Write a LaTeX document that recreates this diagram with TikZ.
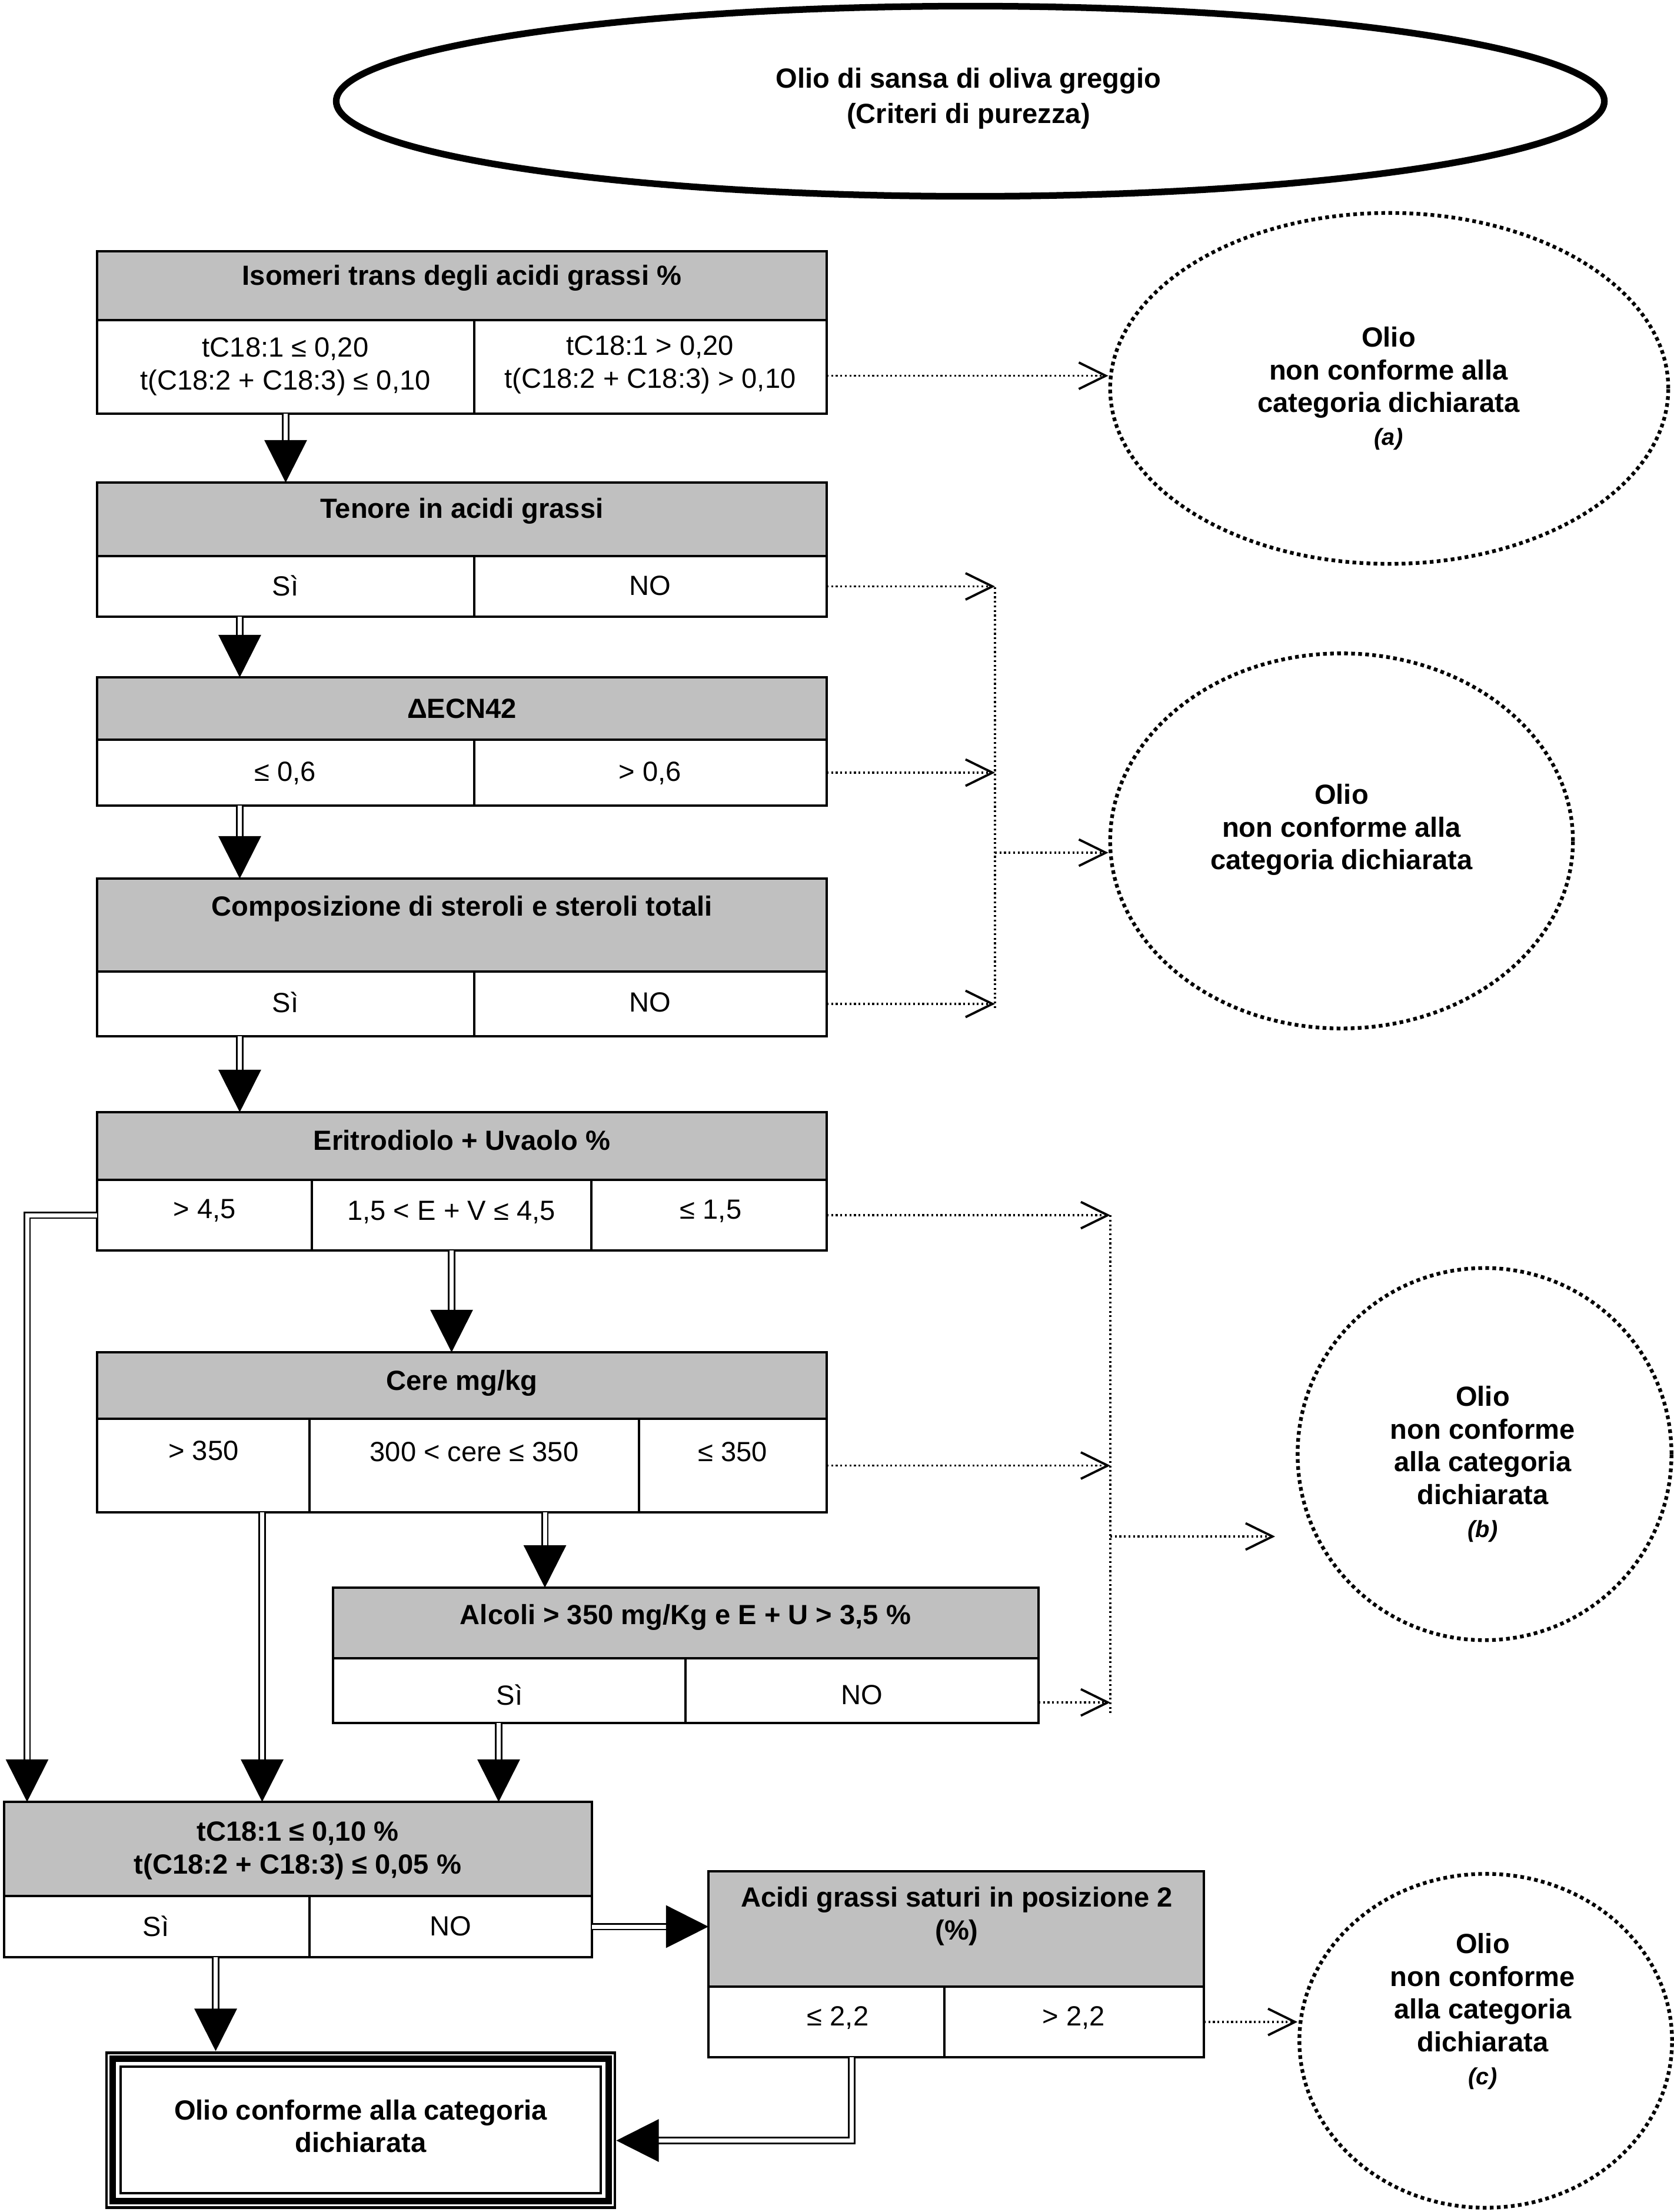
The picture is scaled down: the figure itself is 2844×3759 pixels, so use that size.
\documentclass[tikz,border=0pt]{standalone}
\usepackage{fontspec}
\setmainfont{Liberation Sans}
\usepackage{tikz}
\usetikzlibrary{arrows.meta, shapes.geometric, positioning, fit}

\definecolor{HeadGray}{RGB}{192,192,192}

\begin{document}
\begin{tikzpicture}[x=0.01cm, y=-0.01cm,
    every node/.style={font=\fontsize{13.4}{15.8}\selectfont},
    head/.style={draw, line width=1pt, fill=HeadGray, inner sep=0pt, outer sep=0pt},
    cell/.style={draw, line width=1pt, fill=white, inner sep=0pt, outer sep=0pt},
    htext/.style={font=\fontsize{13.4}{15.8}\selectfont\bfseries, align=center},
    ctext/.style={align=center},
    rejbox/.style={ellipse, draw, line width=1.8pt, dash pattern=on 1.8pt off 1.6pt, inner sep=0pt},
    dbl/.style={double, double distance=2pt, line width=0.75pt, -{Triangle[length=20.5pt, width=20.5pt]}},
    dotline/.style={line width=0.9pt, dash pattern=on 0.9pt off 1.3pt},
    dotarrow/.style={dotline, -{Straight Barb[length=13pt, width=12.8pt, line width=1.1pt]}}
  ]
  \useasboundingbox (0,0) rectangle (2844,3759);

  % title
  \node[ellipse, draw, line width=3.2pt, minimum width=21.54cm, minimum height=3.23cm, inner sep=0pt] (start) at (1649,172) {};
  \node[htext, font=\fontsize{13.4}{17}\selectfont\bfseries] (startT) at (1646,167) {Olio di sansa di oliva greggio\\(Criteri di purezza)};

  % trans isomers
  \node[head, fit={(165,427) (1405,544)}] (isoH) {};
  \node[cell, fit={(165,544) (806,703)}] (isoA) {};
  \node[cell, fit={(806,544) (1405,703)}] (isoB) {};
  \node[htext] (isoHT) at (785,472) {Isomeri trans degli acidi grassi \%};
  \node[ctext] (isoAT) at (485,623) {tC18:1 ≤ 0,20\\t(C18:2 + C18:3) ≤ 0,10};
  \node[ctext] (isoBT) at (1105,620) {tC18:1 > 0,20\\t(C18:2 + C18:3) > 0,10};

  % fatty acids
  \node[head, fit={(165,820) (1405,945)}] (tenH) {};
  \node[cell, fit={(165,945) (806,1048)}] (tenA) {};
  \node[cell, fit={(806,945) (1405,1048)}] (tenB) {};
  \node[htext] (tenHT) at (785,868) {Tenore in acidi grassi};
  \node[ctext] (tenAT) at (485,995) {Sì};
  \node[ctext] (tenBT) at (1105,995) {NO};

  % ECN42
  \node[head, fit={(165,1151) (1405,1257)}] (ecnH) {};
  \node[cell, fit={(165,1257) (806,1369)}] (ecnA) {};
  \node[cell, fit={(806,1257) (1405,1369)}] (ecnB) {};
  \node[htext] (ecnHT) at (785,1204) {ΔECN42};
  \node[ctext] (ecnAT) at (485,1314) {≤ 0,6};
  \node[ctext] (ecnBT) at (1105,1314) {> 0,6};

  % sterols
  \node[head, fit={(165,1493) (1405,1651)}] (compH) {};
  \node[cell, fit={(165,1651) (806,1761)}] (compA) {};
  \node[cell, fit={(806,1651) (1405,1761)}] (compB) {};
  \node[htext] (compHT) at (785,1544) {Composizione di steroli e steroli totali};
  \node[ctext] (compAT) at (485,1703) {Sì};
  \node[ctext] (compBT) at (1105,1703) {NO};

  % erythrodiol
  \node[head, fit={(165,1890) (1405,2005)}] (eritH) {};
  \node[cell, fit={(165,2005) (530,2125)}] (eritA) {};
  \node[cell, fit={(530,2005) (1005,2125)}] (eritB) {};
  \node[cell, fit={(1005,2005) (1405,2125)}] (eritC) {};
  \node[htext] (eritHT) at (785,1938) {Eritrodiolo + Uvaolo \%};
  \node[ctext] (eritAT) at (348,2057) {> 4,5};
  \node[ctext] (eritBT) at (767,2060) {1,5 < E + V ≤ 4,5};
  \node[ctext] (eritCT) at (1208,2058) {≤ 1,5};

  % waxes
  \node[head, fit={(165,2298) (1405,2411)}] (cereH) {};
  \node[cell, fit={(165,2411) (526,2570)}] (cereA) {};
  \node[cell, fit={(526,2411) (1086,2570)}] (cereB) {};
  \node[cell, fit={(1086,2411) (1405,2570)}] (cereC) {};
  \node[htext] (cereHT) at (785,2350) {Cere mg/kg};
  \node[ctext] (cereAT) at (346,2465) {> 350};
  \node[ctext] (cereBT) at (806,2467) {300 < cere ≤ 350};
  \node[ctext] (cereCT) at (1245,2467) {≤ 350};

  % alcohols
  \node[head, fit={(566,2698) (1765,2818)}] (alH) {};
  \node[cell, fit={(566,2818) (1165,2928)}] (alA) {};
  \node[cell, fit={(1165,2818) (1765,2928)}] (alB) {};
  \node[htext] (alHT) at (1165,2748) {Alcoli > 350 mg/Kg e E + U > 3,5 \%};
  \node[ctext] (alAT) at (866,2880) {Sì};
  \node[ctext] (alBT) at (1465,2880) {NO};

  % trans limits
  \node[head, fit={(7,3062) (1006,3222)}] (tcH) {};
  \node[cell, fit={(7,3222) (526,3326)}] (tcA) {};
  \node[cell, fit={(526,3222) (1006,3326)}] (tcB) {};
  \node[htext] (tcHT) at (506,3145) {tC18:1 ≤ 0,10 \%\\t(C18:2 + C18:3) ≤ 0,05 \%};
  \node[ctext] (tcAT) at (265,3273) {Sì};
  \node[ctext] (tcBT) at (766,3273) {NO};

  % saturated in position 2
  \node[head, fit={(1204,3180) (2046,3376)}] (acH) {};
  \node[cell, fit={(1204,3376) (1605,3496)}] (acA) {};
  \node[cell, fit={(1605,3376) (2046,3496)}] (acB) {};
  \node[htext] (acHT) at (1626,3256) {Acidi grassi saturi in posizione 2\\(\%)};
  \node[ctext] (acAT) at (1424,3429) {≤ 2,2};
  \node[ctext] (acBT) at (1825,3429) {> 2,2};

  % result
  \node[draw, line width=1.4pt, fill=white, inner sep=0pt, fit={(181,3488) (1045,3751)}] (fin) {};
  \draw[line width=3pt] ([shift={(0.13cm,-0.13cm)}]fin.north west) rectangle ([shift={(-0.13cm,0.13cm)}]fin.south east);
  \draw[line width=1.3pt] ([shift={(0.265cm,-0.265cm)}]fin.north west) rectangle ([shift={(-0.265cm,0.265cm)}]fin.south east);
  \node[htext] (finT) at (613,3613) {Olio conforme alla categoria\\dichiarata};

  % rejected
  \node[rejbox, minimum width=9.48cm, minimum height=5.96cm] (ella) at (2361,660) {};
  \node[htext] (ellaT) at (2360,660) {Olio\\non conforme alla\\categoria dichiarata\\{\fontsize{11.3}{13}\selectfont\itshape (a)}};
  \node[rejbox, minimum width=7.86cm, minimum height=6.37cm] (ell2) at (2280,1429) {};
  \node[htext] (ell2T) at (2280,1410) {Olio\\non conforme alla\\categoria dichiarata};
  \node[rejbox, minimum width=6.35cm, minimum height=6.32cm] (ellb) at (2523,2471) {};
  \node[htext] (ellbT) at (2520,2488) {Olio\\non conforme\\alla categoria\\dichiarata\\{\fontsize{11.3}{13}\selectfont\itshape (b)}};
  \node[rejbox, minimum width=6.33cm, minimum height=5.67cm] (ellc) at (2525,3468) {};
  \node[htext] (ellcT) at (2520,3418) {Olio\\non conforme\\alla categoria\\dichiarata\\{\fontsize{11.3}{13}\selectfont\itshape (c)}};

  % main flow
  \draw[dbl] (isoA.south) -- (isoA.south |- tenH.north);
  \draw[dbl] ([xshift=-0.78cm]tenA.south) -- ([xshift=-0.78cm]tenA.south |- ecnH.north);
  \draw[dbl] ([xshift=-0.78cm]ecnA.south) -- ([xshift=-0.78cm]ecnA.south |- compH.north);
  \draw[dbl] ([xshift=-0.78cm]compA.south) -- ([xshift=-0.78cm]compA.south |- eritH.north);
  \draw[dbl] (eritB.south) -- (eritB.south |- cereH.north);
  \draw[dbl] (eritA.west) -| ([xshift=0.39cm]tcH.north west);
  \draw[dbl] ([xshift=1cm]cereA.south) -- ([xshift=1cm]cereA.south |- tcH.north);
  \draw[dbl] ([xshift=1.2cm]cereB.south) -- ([xshift=1.2cm]cereB.south |- alH.north);
  \draw[dbl] ([xshift=-0.18cm]alA.south) -- ([xshift=-0.18cm]alA.south |- tcH.north);
  \draw[dbl] ([xshift=1cm]tcA.south) -- ([xshift=1cm]tcA.south |- fin.north);
  \draw[dbl] (tcB.east) -- (tcB.east -| acH.west);
  \draw[dbl] ([xshift=0.43cm]acA.south) |- ([yshift=-0.18cm]fin.east);

  % rejection lines
  \draw[dotarrow] ([yshift=-0.15cm]isoB.east) -- ([yshift=-0.15cm]isoB.east -| ella.west);

  \coordinate (bus1top) at (1691,998);
  \coordinate (bus1bot) at (1691,1715);
  \coordinate (bus1out) at (1691,1449);
  \draw[dotline] (bus1top) -- (bus1bot);
  \draw[dotarrow] (tenB.east) -- (tenB.east -| bus1top);
  \draw[dotarrow] (ecnB.east) -- (ecnB.east -| bus1top);
  \draw[dotarrow] (compB.east) -- (compB.east -| bus1top);
  \draw[dotarrow] (bus1out) -- (bus1out -| ell2.west);

  \coordinate (bus2top) at (1887,2065);
  \coordinate (bus2bot) at (1887,2913);
  \coordinate (bus2out) at (1887,2611);
  \coordinate (tipb) at (2167,2611);
  \draw[dotline] (bus2top) -- (bus2bot);
  \draw[dotarrow] (eritC.east) -- (eritC.east -| bus2top);
  \draw[dotarrow] (cereC.east) -- (cereC.east -| bus2top);
  \draw[dotarrow] ([yshift=-0.2cm]alB.east) -- ([yshift=-0.2cm]alB.east -| bus2top);
  \draw[dotarrow] (bus2out) -- (tipb);

  \draw[dotarrow] (acB.east) -- (acB.east -| ellc.west);
\end{tikzpicture}
\end{document}
